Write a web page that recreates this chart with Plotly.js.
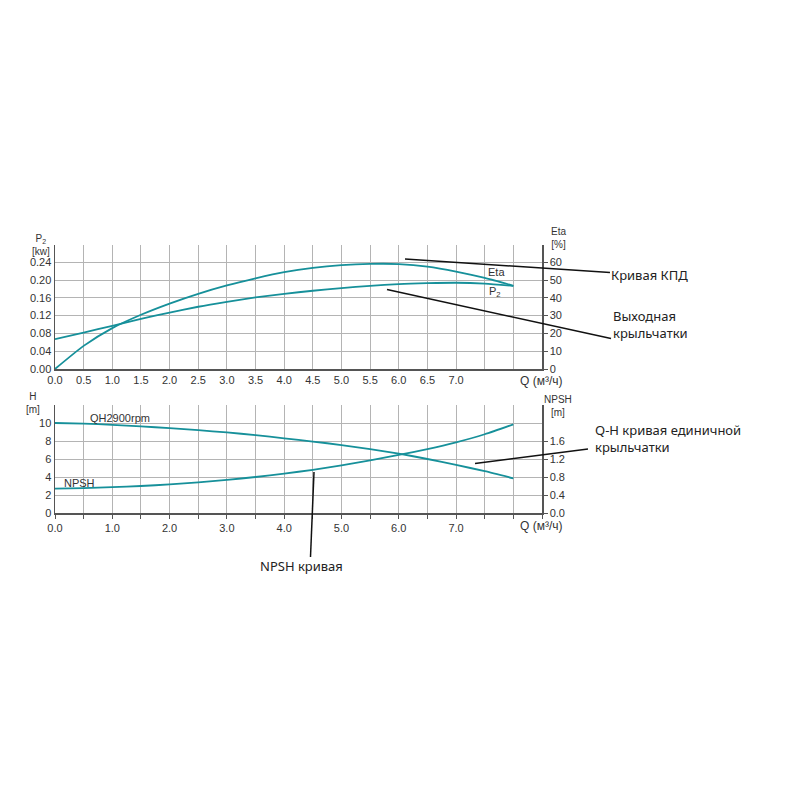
<!DOCTYPE html>
<html>
<head>
<meta charset="utf-8">
<script src="https://cdn.plot.ly/plotly-3.0.1.min.js"></script>
<style>html,body{margin:0;padding:0;background:#fff;}#chart{width:800px;height:800px;}</style>
</head>
<body>
<div id="chart"></div>
<script>
// ---- data ----
const flowQ = [0, 0.5, 1.0, 1.5, 2.0, 2.5, 3.0, 3.5, 4.0, 4.5, 5.0, 5.5, 6.0, 6.5, 7.0, 7.5, 8.0];
const etaPct = [0, 13, 23, 30.5, 36.8, 42.3, 47, 51, 54.5, 56.9, 58.4, 59.1, 59.0, 57.6, 54.8, 51.2, 46.8];
const p2Kw = [0.067, 0.082, 0.097, 0.113, 0.127, 0.140, 0.151, 0.161, 0.169, 0.176, 0.182, 0.187, 0.191, 0.193, 0.194, 0.192, 0.187];
const headM = [10, 9.93, 9.8, 9.63, 9.42, 9.2, 8.95, 8.65, 8.3, 7.94, 7.55, 7.1, 6.6, 6.0, 5.35, 4.64, 3.85];
const npshM = [0.54, 0.555, 0.575, 0.60, 0.635, 0.68, 0.735, 0.80, 0.875, 0.96, 1.06, 1.17, 1.29, 1.42, 1.57, 1.75, 1.97];

const topXTicks = [0, 0.5, 1, 1.5, 2, 2.5, 3, 3.5, 4, 4.5, 5, 5.5, 6, 6.5, 7];
const topXLabels = ['0.0','0.5','1.0','1.5','2.0','2.5','3.0','3.5','4.0','4.5','5.0','5.5','6.0','6.5','7.0'];
const botXTicks = [0, 1, 2, 3, 4, 5, 6, 7];
const botXLabels = ['0.0','1.0','2.0','3.0','4.0','5.0','6.0','7.0'];
const p2Ticks = [0, 0.04, 0.08, 0.12, 0.16, 0.20, 0.24];
const p2Labels = ['0.00','0.04','0.08','0.12','0.16','0.20','0.24'];
const etaTicks = [0, 10, 20, 30, 40, 50, 60];
const hTicks = [0, 2, 4, 6, 8, 10];
const npshTicks = [0, 0.4, 0.8, 1.2, 1.6];
const npshLabels = ['0.0','0.4','0.8','1.2','1.6'];

// ---- layout helpers ----
const W = 800, H = 800;
const px = v => v / W;
const py = v => 1 - v / H;
const curveColor = '#16909a';
const gridColor = '#b4b4b4';
const axisColor = '#555';
const tickFont = {family: 'Liberation Sans, Arial, sans-serif', size: 11, color: '#333'};
const titleFont = {family: 'Liberation Sans, Arial, sans-serif', size: 10, color: '#333'};
const noteFont = {family: 'Noto Sans, Open Sans, sans-serif', size: 13, color: '#222'};

const xDom = [px(55), px(542)];
const lineStyle = {color: curveColor, width: 1.8, shape: 'spline', smoothing: 0.6};

const traces = [
  {x: flowQ, y: p2Kw, xaxis: 'x', yaxis: 'y', mode: 'lines', line: lineStyle},
  {x: flowQ, y: etaPct, xaxis: 'x', yaxis: 'y2', mode: 'lines', line: lineStyle},
  {x: flowQ, y: headM, xaxis: 'x2', yaxis: 'y3', mode: 'lines', line: lineStyle},
  {x: flowQ, y: npshM, xaxis: 'x2', yaxis: 'y4', mode: 'lines', line: lineStyle}
];

const baseX = {
  range: [0, 8.5], domain: xDom, tickmode: 'array',
  showgrid: true, gridcolor: gridColor, gridwidth: 1, zeroline: false,
  showline: true, linecolor: axisColor, linewidth: 1.5, tickfont: tickFont, fixedrange: true
};

const layout = {
  width: W, height: H, margin: {l: 0, r: 0, t: 0, b: 0},
  paper_bgcolor: '#fff', plot_bgcolor: '#fff', showlegend: false, hovermode: false,
  xaxis: Object.assign({}, baseX, {anchor: 'y', tickvals: topXTicks, ticktext: topXLabels, ticks: '',
    minor: {tick0: 0, dtick: 0.5, showgrid: true, gridcolor: gridColor, gridwidth: 1, ticks: ''}}),
  yaxis: {domain: [py(369), py(244.5)], range: [0, 0.28], tickmode: 'array', tickvals: p2Ticks, ticktext: p2Labels,
    showgrid: true, gridcolor: gridColor, zeroline: false, showline: true, linecolor: axisColor, linewidth: 1.5,
    minor: {tick0: 0, dtick: 0.04, showgrid: true, gridcolor: gridColor, gridwidth: 1, ticks: ''},
    ticks: '', tickfont: tickFont, anchor: 'x', fixedrange: true},
  yaxis2: {domain: [py(369), py(244.5)], range: [0, 70], overlaying: 'y', side: 'right', anchor: 'x',
    tickmode: 'array', tickvals: etaTicks, showgrid: false, zeroline: false, showline: true,
    linecolor: axisColor, linewidth: 1.5, ticks: 'outside', ticklen: 4, tickcolor: axisColor, tickfont: tickFont, fixedrange: true},
  xaxis2: Object.assign({}, baseX, {anchor: 'y3', tickvals: botXTicks, ticktext: botXLabels, ticks: 'outside', ticklen: 4, tickcolor: axisColor,
    minor: {tick0: 0, dtick: 0.5, showgrid: true, gridcolor: gridColor, gridwidth: 1, ticks: 'outside', ticklen: 4, tickcolor: axisColor}}),
  yaxis3: {domain: [py(513), py(405)], range: [0, 12], tickmode: 'array', tickvals: hTicks,
    showgrid: true, gridcolor: gridColor, zeroline: false, showline: true, linecolor: axisColor, linewidth: 1.5,
    minor: {tick0: 0, dtick: 2, showgrid: true, gridcolor: gridColor, gridwidth: 1, ticks: ''},
    ticks: '', tickfont: tickFont, anchor: 'x2', fixedrange: true},
  yaxis4: {domain: [py(513), py(405)], range: [0, 2.4], overlaying: 'y3', side: 'right', anchor: 'x2',
    tickmode: 'array', tickvals: npshTicks, ticktext: npshLabels, showgrid: false, zeroline: false, showline: true,
    linecolor: axisColor, linewidth: 1.5, ticks: 'outside', ticklen: 4, tickcolor: axisColor, tickfont: tickFont, fixedrange: true},
  annotations: [],
  shapes: []
};

function label(text, x, y, font, xanchor, align) {
  layout.annotations.push({text: text, xref: 'paper', yref: 'paper', x: px(x), y: py(y),
    xanchor: xanchor || 'center', yanchor: 'middle', align: align || 'center', showarrow: false, font: font});
}
// axis titles
label('P<sub>2</sub><br>[kw]', 41, 245, titleFont);
label('Eta<br>[%]', 558, 237.5, titleFont);
label('Q (м³/ч)', 541, 381, Object.assign({}, tickFont, {size: 12}));
label('H<br>[m]', 33, 403, titleFont);
label('NPSH<br>[m]', 558, 405.5, titleFont);
label('Q (м³/ч)', 541, 526, Object.assign({}, tickFont, {size: 12}));
// curve labels
label('Eta', 496, 272, tickFont);
label('P<sub>2</sub>', 495, 292, tickFont);
label('QH2900rpm', 120, 418, tickFont);
label('NPSH', 79, 483, tickFont);
// callouts
label('Кривая КПД', 609, 275, noteFont, 'left', 'left');
label('Выходная<br>крыльчатки', 611, 324, noteFont, 'left', 'left');
label('Q-H кривая единичной<br>крыльчатки', 593, 438.5, noteFont, 'left', 'left');
label('NPSH кривая', 301, 566, noteFont, 'center');

function pointer(x0, y0, x1, y1) {
  layout.shapes.push({type: 'line', xref: 'paper', yref: 'paper', x0: px(x0), y0: py(y0), x1: px(x1), y1: py(y1),
    line: {color: '#111', width: 1.5}});
}
pointer(405, 259, 610, 272.5);
pointer(387, 289.5, 611, 338.5);
pointer(475, 463.5, 588, 449);
pointer(314, 472, 310.5, 557);

Plotly.newPlot('chart', traces, layout, {staticPlot: true, displayModeBar: false});
</script>
</body>
</html>
